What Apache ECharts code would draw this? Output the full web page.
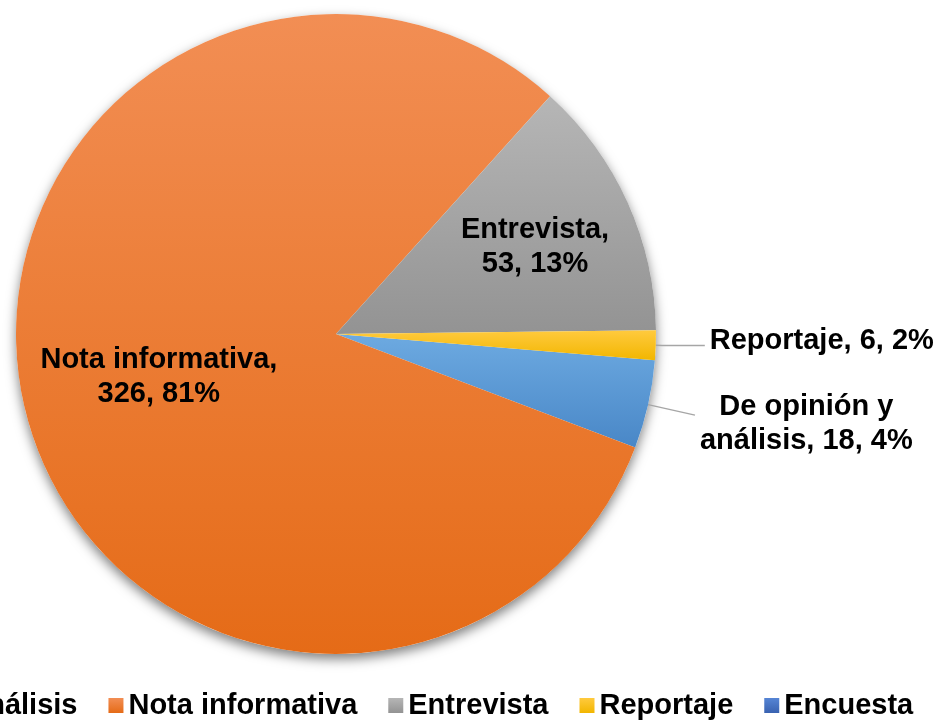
<!DOCTYPE html>
<html>
<head>
<meta charset="utf-8">
<script src="https://cdn.jsdelivr.net/npm/echarts@6/dist/echarts.min.js"></script>
<style>
  html, body { margin: 0; padding: 0; background: #fff; }
  #chart { width: 941px; height: 721px; }
</style>
</head>
<body>
<div id="chart"></div>
<script>
const categories = ['De opinión y análisis', 'Nota informativa', 'Entrevista', 'Reportaje', 'Encuesta'];
const counts = [18, 326, 53, 6, 0];

const topColors = ['#6DAAE1', '#F28E54', '#B6B6B6', '#FFCA3E', '#5685D5'];
const bottomColors = ['#4987C7', '#E56B17', '#939393', '#F2B600', '#3962B0'];

const FONT = 'Liberation Sans';
const CENTER = [336, 334];
const RADIUS = 320;

// inside labels sit further out than ECharts' default half radius
const insideReach = { 'Entrevista': 1.34, 'Nota informativa': 1.118 };

const chart = echarts.init(document.getElementById('chart'), null, { renderer: 'canvas' });

const shade = (i) => ({
  type: 'linear', x: 0, y: 0, x2: 0, y2: 1,
  colorStops: [
    { offset: 0, color: topColors[i] },
    { offset: 1, color: bottomColors[i] }
  ]
});

const twoLines = (p) => `${p.name},\n${p.value}, ${p.percent}%`;

function labelFor(name) {
  if (name === 'Entrevista') {
    return { position: 'inside', padding: [6, 0, 0, 0], formatter: twoLines };
  }
  if (name === 'Nota informativa') {
    return { position: 'inside', formatter: twoLines };
  }
  if (name === 'Reportaje') {
    return { position: 'outside', padding: [0, 0, 9, 0], formatter: (p) => `${p.name}, ${p.value}, ${p.percent}%` };
  }
  if (name === 'De opinión y análisis') {
    return {
      position: 'outside',
      padding: [18, 0, 0, 0],
      formatter: (p) => {
        const cut = p.name.lastIndexOf(' ');
        return `{c|${p.name.slice(0, cut)}}\n{c|${p.name.slice(cut + 1)}, ${p.value}, ${p.percent}%}`;
      }
    };
  }
  return { show: false };
}

const lineFor = {
  'Reportaje': { length: 6, length2: 43 },
  'De opinión y análisis': { length: 48, length2: 0 }
};

const pieData = categories.map((name, i) => ({
  name,
  value: counts[i],
  itemStyle: { color: shade(i) },
  label: labelFor(name),
  labelLine: lineFor[name] ? Object.assign({ show: true }, lineFor[name]) : { show: false }
}));

chart.setOption({
  animation: false,
  backgroundColor: '#ffffff',
  textStyle: { fontFamily: FONT },
  legend: {
    data: categories,
    left: -231,
    top: 691,
    padding: 0,
    icon: 'rect',
    itemWidth: 15,
    itemHeight: 15,
    itemGap: 31,
    selectedMode: false,
    textStyle: { fontFamily: FONT, fontSize: 29, fontWeight: 'bold', color: '#000' }
  },
  series: [
    {
      // plain disc under the slices, only to carry the drop shadow
      type: 'pie',
      z: 1,
      silent: true,
      center: CENTER,
      radius: RADIUS,
      label: { show: false },
      labelLine: { show: false },
      itemStyle: {
        color: '#ffffff',
        shadowBlur: 12,
        shadowOffsetY: 5,
        shadowColor: 'rgba(0,0,0,0.5)'
      },
      data: [{ name: 'fondo', value: 1 }]
    },
    {
      type: 'pie',
      z: 2,
      center: CENTER,
      radius: RADIUS,
      right: -80,
      startAngle: -4.7,
      clockwise: true,
      percentPrecision: 0,
      avoidLabelOverlap: false,
      label: {
        fontFamily: FONT,
        fontSize: 29,
        fontWeight: 'bold',
        color: '#000',
        lineHeight: 34,
        bleedMargin: 0,
        rich: {
          c: { align: 'center', fontFamily: FONT, fontSize: 29, fontWeight: 'bold', color: '#000', lineHeight: 34 }
        }
      },
      labelLine: {
        smooth: false,
        lineStyle: { color: '#A6A6A6', width: 1.4 }
      },
      labelLayout: (p) => {
        const k = insideReach[categories[p.dataIndex]];
        if (!k) return {};
        const lx = p.labelRect.x + p.labelRect.width / 2;
        const ly = p.labelRect.y + p.labelRect.height / 2;
        return { dx: (lx - CENTER[0]) * (k - 1), dy: (ly - CENTER[1]) * (k - 1) };
      },
      data: pieData
    }
  ]
});
</script>
</body>
</html>
